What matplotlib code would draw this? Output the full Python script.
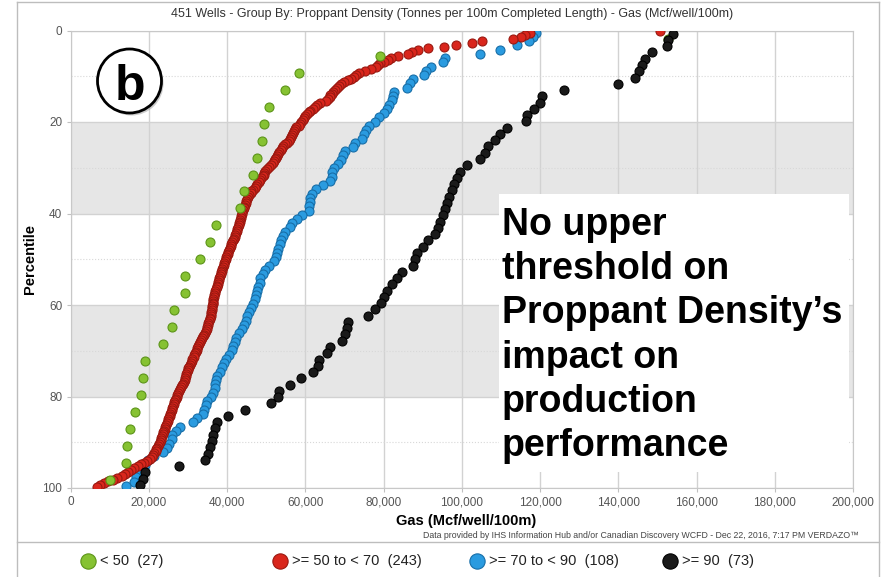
import matplotlib
matplotlib.use("Agg")
import matplotlib.pyplot as plt
import numpy as np
from matplotlib.patches import Rectangle, Ellipse
from matplotlib.lines import Line2D
from matplotlib.ticker import FuncFormatter

plt.rcParams["font.family"] = ["Liberation Sans", "DejaVu Sans"]

# gas (Mcf/well/100m) per well, by proppant density group
gas_lt50 = [152700, 79200, 58400, 54800, 50700, 49500, 49000, 47600, 46600, 44400,
            43300, 37100, 35500, 33100, 29200, 29100, 26500, 25800, 23600, 19100,
            18400, 18000, 16500, 15200, 14300, 14100, 10100]

gas_50_70 = [150700, 117500, 116200, 115200, 113100, 105200, 102600, 98500, 95500, 91400,
             88700, 87300, 86300, 83700, 81900, 81200, 80100, 79100, 78600, 78100,
             76900, 75300, 73700, 73000, 72300, 71600, 70800, 69900, 69100, 68500,
             68000, 67500, 67100, 66700, 66400, 66200, 65900, 65300, 63800, 63000,
             62400, 62000, 61300, 60800, 60400, 60000, 59700, 59300, 59000, 58600,
             58300, 57700, 57400, 57100, 56900, 56600, 56400, 56100, 55800, 55300,
             54800, 54400, 54000, 53700, 53300, 53000, 52800, 52500, 52300, 51900,
             51600, 51200, 50800, 50300, 49800, 49500, 49300, 49100, 48700, 48400,
             48100, 47700, 47300, 47000, 46500, 46200, 46000, 45600, 45300, 45100,
             44900, 44700, 44600, 44400, 44200, 44100, 43900, 43800, 43600, 43500,
             43300, 43200, 43000, 42900, 42700, 42600, 42500, 42300, 42100, 41900,
             41700, 41500, 41300, 41100, 40900, 40700, 40500, 40300, 40100, 39900,
             39700, 39600, 39400, 39300, 39100, 38900, 38800, 38600, 38500, 38300,
             38200, 38000, 37900, 37700, 37600, 37400, 37300, 37100, 37000, 36800,
             36700, 36600, 36500, 36400, 36400, 36300, 36200, 36100, 36000, 35900,
             35800, 35800, 35600, 35500, 35300, 35200, 35100, 34900, 34800, 34500,
             34300, 34000, 33800, 33600, 33300, 33100, 32900, 32600, 32400, 32200,
             32000, 31800, 31500, 31400, 31100, 30900, 30700, 30500, 30300, 30100,
             29900, 29800, 29600, 29400, 29200, 29100, 28900, 28600, 28400, 28200,
             27900, 27700, 27500, 27200, 27100, 26900, 26700, 26500, 26400, 26200,
             26000, 25800, 25700, 25500, 25300, 25100, 24900, 24800, 24600, 24400,
             24200, 24000, 23900, 23700, 23500, 23300, 23100, 23000, 22800, 22600,
             22400, 22100, 21900, 21700, 21400, 21000, 20700, 20300, 19600, 18800,
             18000, 17100, 16300, 15500, 14700, 13800, 13000, 11800, 10800, 9500,
             8500, 7400, 6700]

gas_70_90 = [119000, 118200, 117200, 114100, 109800, 104700, 95700, 95200, 92100, 90900,
             90400, 87500, 86800, 86000, 82700, 82400, 82200, 81400, 80900, 80100,
             78800, 77800, 76200, 75500, 74900, 74500, 72700, 72200, 70200, 69600,
             69100, 68400, 67300, 66800, 66700, 66300, 64500, 62700, 61700, 61200,
             61100, 61000, 60800, 59200, 57900, 56500, 56100, 54800, 54200, 53800,
             53500, 53100, 52800, 52400, 52000, 50700, 49700, 49200, 48500, 48300,
             47900, 47600, 47400, 47000, 46700, 46100, 45700, 45200, 44800, 44300,
             43800, 42900, 42300, 41900, 41600, 41300, 40500, 39800, 39200, 38600,
             38100, 37500, 37200, 36900, 36800, 36300, 35900, 34900, 34500, 34100,
             33800, 32300, 31300, 28000, 26800, 26000, 25800, 25100, 24600, 23600,
             21300, 19800, 19000, 18000, 17700, 16700, 16100, 14100]

gas_ge90 = [154100, 152800, 152400, 148600, 146900, 146000, 145200, 144300, 140000, 126000,
            120500, 120000, 118500, 116600, 116400, 111500, 109800, 108500, 106800, 106000,
            104700, 101300, 99400, 98700, 98000, 97400, 96800, 96300, 95700, 95100,
            94400, 93800, 93200, 91400, 90100, 88600, 88100, 87500, 84700, 83500,
            82200, 80900, 80100, 79400, 77800, 76000, 70900, 70700, 70200, 69400,
            66300, 65500, 63500, 63200, 62000, 58900, 56100, 53300, 53000, 51200,
            44600, 40200, 37400, 36900, 36400, 36100, 35600, 35100, 34300, 27700,
            19000, 18400, 17700]

labels = ["< 50  (27)", ">= 50 to < 70  (243)", ">= 70 to < 90  (108)", ">= 90  (73)"]
face = ["#86c232", "#d9261c", "#2a9be0", "#1a1a1a"]
edge = ["#5c9418", "#9a1810", "#176ea8", "#000000"]
series = [gas_lt50, gas_50_70, gas_70_90, gas_ge90]
zorders = [5, 4, 3, 6]

W, H = 885, 577
fig = plt.figure(figsize=(W / 100, H / 100), dpi=100)


def fx(px):
    return px / W


def fy(py):
    return 1 - py / H


ax = fig.add_axes([fx(70.7), fy(488), fx(853) - fx(70.7), fy(30.5) - fy(488)])

ax.axhspan(20, 40, color="#e6e6e6", zorder=0, lw=0)
ax.axhspan(60, 80, color="#e6e6e6", zorder=0, lw=0)

for g, fc, ec, z in zip(series, face, edge, zorders):
    vals = np.sort(np.array(g))[::-1]
    n = len(vals)
    pct = (np.arange(1, n + 1) - 0.5) / n * 100
    ax.scatter(vals, pct, s=42, c=fc, edgecolors=ec, linewidths=0.8, zorder=z)

ax.set_xlim(0, 200000)
ax.set_ylim(100, 0)
ax.set_xticks(np.arange(0, 200001, 20000))
ax.set_yticks(np.arange(0, 101, 20))
ax.set_yticks(np.arange(10, 100, 20), minor=True)
ax.xaxis.set_major_formatter(FuncFormatter(lambda v, p: f"{v:,.0f}"))
ax.grid(which="major", color="#d2d2d2", lw=1, zorder=1)
ax.grid(which="minor", axis="y", color="#d8d8d8", lw=0.8, ls=":", zorder=1)
ax.set_axisbelow(True)
ax.tick_params(which="major", length=3, color="#c0c0c0", labelsize=8.5,
               labelcolor="#555555", pad=3)
ax.tick_params(which="minor", length=0)
for sp in ax.spines.values():
    sp.set_color("#c8c8c8")

ax.set_ylabel("Percentile", fontsize=10.5, fontweight="bold", labelpad=4)

fig.text(fx(452), fy(14), "451 Wells - Group By: Proppant Density (Tonnes per 100m Completed Length) - Gas (Mcf/well/100m)",
         ha="center", va="center", fontsize=9, color="#333333")
fig.text(fx(466), fy(521), "Gas (Mcf/well/100m)", ha="center", va="center",
         fontsize=10.5, fontweight="bold")
fig.text(fx(859), fy(536), "Data provided by IHS Information Hub and/or Canadian Discovery WCFD - Dec 22, 2016, 7:17 PM VERDAZO\u2122",
         ha="right", va="center", fontsize=6.3, color="#444444")

# panel borders
fig.add_artist(Line2D([fx(17), fx(17)], [0, fy(2)], color="#bdbdbd", lw=1))
fig.add_artist(Line2D([fx(17), fx(879)], [fy(2), fy(2)], color="#bdbdbd", lw=1))
fig.add_artist(Line2D([fx(879), fx(879)], [0, fy(2)], color="#bdbdbd", lw=1))
fig.add_artist(Line2D([fx(17), fx(879)], [fy(542), fy(542)], color="#bdbdbd", lw=1))

# legend
mark_x = [88, 280, 477, 670]
for mx, lab, fc, ec in zip(mark_x, labels, face, edge):
    fig.add_artist(Line2D([fx(mx)], [fy(561)], marker="o", markersize=11,
                          markerfacecolor=fc, markeredgecolor=ec, markeredgewidth=0.8))
    fig.text(fx(mx + 12), fy(561), lab, ha="left", va="center", fontsize=10.5, color="#222222")

# "b" badge
fig.add_artist(Ellipse((fx(131.5), fy(83.5)), 64 / W, 64 / H, facecolor="#9a9a9a",
                       edgecolor="none", alpha=0.5, zorder=3))
fig.add_artist(Ellipse((fx(129.5), fy(81)), 64 / W, 64 / H, facecolor="white",
                       edgecolor="black", lw=2, zorder=4))
fig.text(fx(130), fy(100), "b", ha="center", va="baseline", fontsize=36,
         fontweight="bold", zorder=5)

# annotation box
fig.add_artist(Rectangle((fx(499), fy(472)), fx(849) - fx(499), fy(194) - fy(472),
                         facecolor="white", edgecolor="none", zorder=3))
note_lines = ["No upper", "threshold on", "Proppant Density\u2019s", "impact on",
              "production", "performance"]
for k, line in enumerate(note_lines):
    fig.text(fx(502), fy(235 + k * 44.2), line, ha="left", va="baseline",
             fontsize=27, fontweight="bold", color="black", zorder=4)

fig.savefig("out.png", dpi=100)
